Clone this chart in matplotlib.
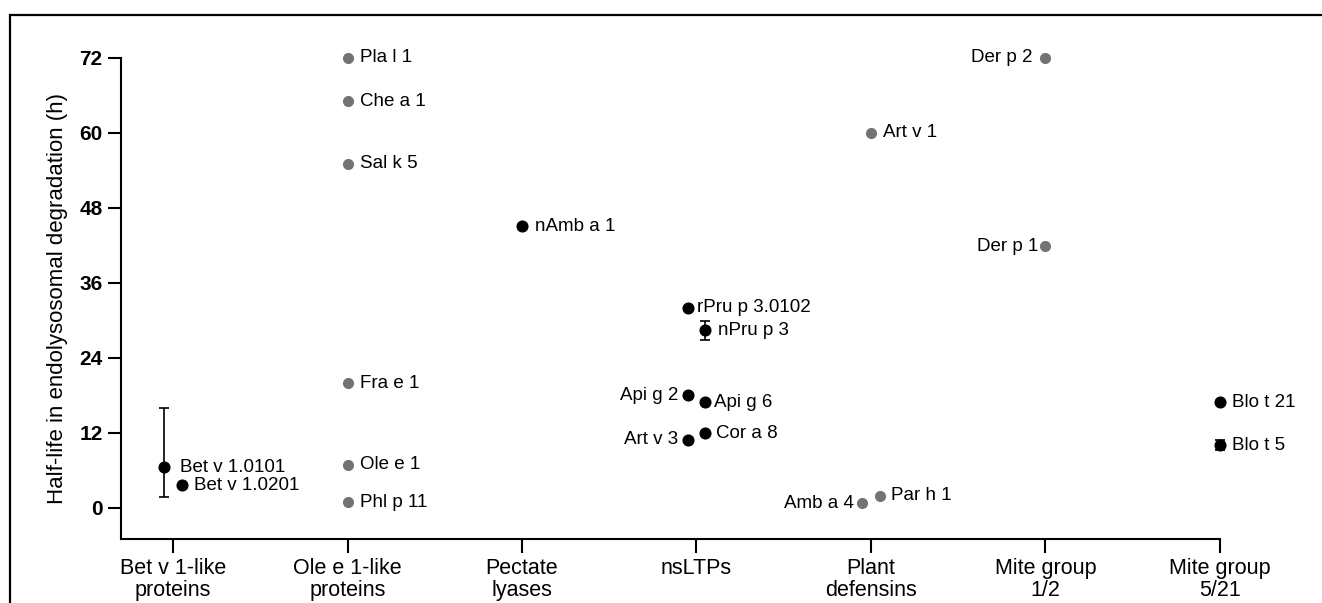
import matplotlib
matplotlib.use("Agg")
import matplotlib.pyplot as plt
from matplotlib.patches import Rectangle

plt.rcParams['font.family'] = ['Liberation Sans', 'DejaVu Sans']

# allergen families on the x axis
groups = ["Bet v 1-like\nproteins", "Ole e 1-like\nproteins", "Pectate\nlyases",
          "nsLTPs", "Plant\ndefensins", "Mite group\n1/2", "Mite group\n5/21"]

allergens = ["Bet v 1.0101", "Bet v 1.0201",
             "Pla l 1", "Che a 1", "Sal k 5", "Fra e 1", "Ole e 1", "Phl p 11",
             "nAmb a 1",
             "rPru p 3.0102", "nPru p 3", "Api g 2", "Api g 6", "Art v 3", "Cor a 8",
             "Art v 1", "Amb a 4", "Par h 1",
             "Der p 2", "Der p 1",
             "Blo t 21", "Blo t 5"]
group_idx = [0, 0,
             1, 1, 1, 1, 1, 1,
             2,
             3, 3, 3, 3, 3, 3,
             4, 4, 4,
             5, 5,
             6, 6]
half_life = [6.5, 3.6,
             72.0, 65.0, 55.0, 19.9, 6.9, 0.9,
             45.0,
             32.0, 28.4, 18.0, 16.9, 10.9, 11.9,
             60.0, 0.7, 1.9,
             72.0, 41.8,
             16.9, 10.0]
err_low = [4.8, 0, 0, 0, 0, 0, 0, 0, 0, 0, 1.5, 0, 0, 0, 0, 0, 0, 0, 0, 0, 0, 0.8]
err_high = [9.4, 0, 0, 0, 0, 0, 0, 0, 0, 0, 1.5, 0, 0, 0, 0, 0, 0, 0, 0, 0, 0, 0.8]

# groups shown in grey (literature values)
grey_groups = [1, 4, 5]

# horizontal nudges so neighbouring points don't overlap
nudge = {"Bet v 1.0101": -0.05, "Bet v 1.0201": 0.05,
         "rPru p 3.0102": -0.05, "nPru p 3": 0.05, "Api g 2": -0.05,
         "Api g 6": 0.05, "Art v 3": -0.05, "Cor a 8": 0.05,
         "Amb a 4": -0.05, "Par h 1": 0.05}
left_labels = {"Api g 2": 7, "Art v 3": 7, "Amb a 4": 6, "Der p 2": 9.4, "Der p 1": 5}
right_gap = {"Bet v 1.0101": 11, "rPru p 3.0102": 6.5, "Api g 6": 6.5,
             "Cor a 8": 7.7, "Par h 1": 8}

fig = plt.figure(figsize=(13.22, 6.03), dpi=100)
ax = fig.add_axes([0.0913, 0.1056, 0.8315, 0.7987])

for name, g, y, lo, hi in zip(allergens, group_idx, half_life, err_low, err_high):
    x = g + nudge.get(name, 0)
    grey = g in grey_groups
    col = '#737373' if grey else 'black'
    ms = 7.0 if grey else 7.7
    if lo or hi:
        ax.errorbar(x, y, yerr=[[lo], [hi]], fmt='o', color=col, ms=ms,
                    elinewidth=1.2, capsize=3.6, capthick=1.2, zorder=3,
                    clip_on=False)
    else:
        ax.plot(x, y, 'o', color=col, ms=ms, zorder=3, clip_on=False)
    if name in left_labels:
        ax.annotate(name, (x, y), xytext=(-left_labels[name], 0),
                    textcoords='offset points', ha='right', va='center',
                    fontsize=13.5)
    else:
        ax.annotate(name, (x, y), xytext=(right_gap.get(name, 9), 0),
                    textcoords='offset points', ha='left', va='center',
                    fontsize=13.5)

ax.set_xlim(-0.30, 6.0)
ax.set_ylim(-5.06, 72)
ax.set_yticks([0, 12, 24, 36, 48, 60, 72])
ax.set_xticks(range(len(groups)))
ax.set_xticklabels(groups, fontsize=15.5, linespacing=1.05)
for lab in ax.get_yticklabels():
    lab.set_fontweight('bold')
    lab.set_fontsize(15)
ax.tick_params(axis='y', length=9.4, width=1.5, pad=3.6)
ax.tick_params(axis='x', length=10, width=1.5, pad=3.5)
ax.spines['top'].set_visible(False)
ax.spines['right'].set_visible(False)
ax.spines['left'].set_linewidth(1.5)
ax.spines['bottom'].set_linewidth(1.5)
ax.set_ylabel("Half-life in endolysosomal degradation (h)", fontsize=16, labelpad=8)

# frame around the panel (cut off at the bottom in the original)
fig.patches.append(Rectangle((9.7 / 1322, -0.2), 1.1, 0.2 + (603 - 14.7) / 603,
                             transform=fig.transFigure, fill=False,
                             edgecolor='black', linewidth=1.6, clip_on=False))

fig.savefig("out.png", dpi=100)
